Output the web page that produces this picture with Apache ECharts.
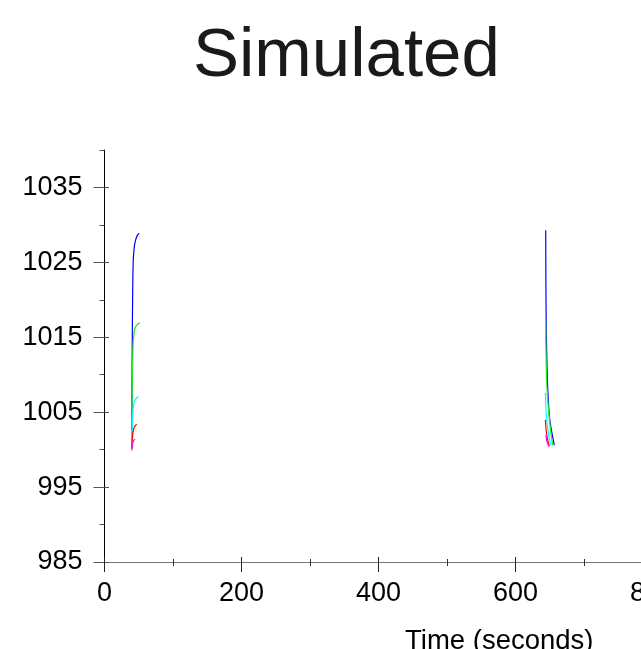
<!DOCTYPE html>
<html><head><meta charset="utf-8">
<script src="https://cdn.jsdelivr.net/npm/echarts@6/dist/echarts.min.js"></script>
<style>html,body{margin:0;padding:0;background:#fff}#c{width:641px;height:649px}</style>
</head><body><div id="c"></div>
<script>
const titleText = 'Simulated';
const xAxisTitle = 'Time (seconds)';
const xTickLabels = [0, 200, 400, 600, 800];
const yTickLabels = [985, 995, 1005, 1015, 1025, 1035];
const yMinorTicks = [990, 1000, 1010, 1020, 1030, 1040];

const blueRise = [[39.7,1000.2],[40.1,1008],[40.6,1015.5],[41.2,1021.5],[42,1025.3],[43.5,1027.1],[45.5,1028],[48,1028.6],[50.8,1028.9]];
const greenRise = [[39.7,1000.4],[40.2,1006],[40.7,1010],[41.4,1013],[42.3,1014.8],[44.5,1016.2],[48,1016.7],[51.8,1016.9]];
const cyanRise = [[39.8,1000.3],[40.3,1002.5],[41,1004.5],[42,1005.6],[43.5,1006.4],[46,1006.8],[49.4,1007.1]];
const redRise = [[39.8,1000.1],[40.4,1001],[41,1001.8],[42,1002.5],[43.5,1003],[47,1003.4]];
const magentaRise = [[39.7,999.9],[40.3,1000.4],[41,1000.8],[42.5,1001.2],[44.5,1001.4]];

const blueFall = [[644.1,1029.3],[644.4,1022],[644.9,1016],[645.5,1013.3],[646.5,1009.5],[647.9,1006.6],[649.8,1004.2],[652.8,1002.4],[656.7,1000.6]];
const greenFall = [[644.1,1017],[644.6,1012.5],[645.4,1009.3],[646.5,1007.3],[647.9,1005.7],[650,1003.6],[652,1002],[654.3,1000.6]];
const cyanFall = [[643.6,1007.6],[644.4,1005.6],[645.6,1004.1],[647.2,1002.8],[649,1001.7],[650.5,1001],[651.8,1000.6]];
const redFall = [[643.6,1004],[644.4,1002.9],[645.6,1002],[647,1001.3],[648.3,1000.8],[649.4,1000.5]];
const magentaFall = [[644.5,1002],[645.4,1001.3],[646.6,1000.9],[648,1000.6],[649.4,1000.4]];

const seriesDefs = [
  {name:'blue', color:'#0000ff', rise: blueRise, fall: blueFall},
  {name:'green', color:'#22ee22', rise: greenRise, fall: greenFall},
  {name:'cyan', color:'#00ffff', rise: cyanRise, fall: cyanFall},
  {name:'red', color:'#ff0000', rise: redRise, fall: redFall},
  {name:'magenta', color:'#ff00ff', rise: magentaRise, fall: magentaFall}
];

const series = [];
seriesDefs.forEach(d => {
  [d.rise, d.fall].forEach(seg => {
    series.push({
      name: d.name, type: 'line', data: seg, xAxisIndex: 0, yAxisIndex: 0,
      showSymbol: false, symbol: 'none', smooth: 0.3,
      lineStyle: {color: d.color, width: 1.2}, itemStyle: {color: d.color},
      z: 3
    });
  });
});

const chart = echarts.init(document.getElementById('c'), null, {renderer: 'canvas'});
const yMin = 985, yMax = 1040, xMin = 0, xMax = 800;
const labelFont = 'Liberation Sans, Arial, sans-serif';
const plain = v => String(v);
chart.setOption({
  animation: false,
  backgroundColor: '#ffffff',
  title: [
    {text: titleText, left: 188, top: 17,
     textStyle: {fontFamily: 'Liberation Sans, sans-serif', fontSize: 69, fontWeight: 'normal', color: '#1a1a1a'}},
    {text: xAxisTitle, left: 400, top: 622,
     textStyle: {fontFamily: labelFont, fontSize: 27.5, fontWeight: 'normal', color: '#000'}}
  ],
  grid: {left: 104.5, right: -11.5, top: 150, bottom: 87, containLabel: false, outerBoundsMode: 'none'},
  xAxis: [
    {type: 'value', position: 'bottom', min: xMin, max: xMax, interval: 200,
     axisLine: {show: true, onZero: false, lineStyle: {color: '#777', width: 1.2}},
     axisTick: {show: true, length: 10, lineStyle: {color: '#222'}},
     minorTick: {show: true, splitNumber: 2, length: 4, lineStyle: {color: '#333'}},
     axisLabel: {show: true, fontSize: 27, color: '#000', margin: 18, fontFamily: labelFont,
       customValues: xTickLabels, formatter: plain, hideOverlap: false},
     splitLine: {show: false}, minorSplitLine: {show: false}},
    {type: 'value', position: 'bottom', min: xMin, max: xMax, interval: 200,
     axisLine: {show: false, onZero: false},
     axisTick: {show: true, inside: true, length: 5, lineStyle: {color: '#222'}},
     minorTick: {show: true, splitNumber: 2, length: 3, lineStyle: {color: '#333'}},
     axisLabel: {show: false}, splitLine: {show: false}, minorSplitLine: {show: false}}
  ],
  yAxis: [
    {type: 'value', position: 'left', min: yMin, max: yMax,
     axisLine: {show: true, onZero: false, lineStyle: {color: '#000', width: 1}},
     axisTick: {show: true, length: 11, customValues: yTickLabels, lineStyle: {color: '#555'}},
     axisLabel: {show: true, fontSize: 27, color: '#000', margin: 22, fontFamily: labelFont,
       customValues: yTickLabels, formatter: plain},
     splitLine: {show: false}},
    {type: 'value', position: 'left', min: yMin, max: yMax,
     axisLine: {show: false, onZero: false},
     axisTick: {show: true, inside: true, length: 4.5, customValues: yTickLabels, lineStyle: {color: '#555'}},
     axisLabel: {show: false}, splitLine: {show: false}},
    {type: 'value', position: 'left', min: yMin, max: yMax,
     axisLine: {show: false, onZero: false},
     axisTick: {show: true, length: 5, customValues: yMinorTicks, lineStyle: {color: '#555'}},
     axisLabel: {show: false}, splitLine: {show: false}}
  ],
  series: series
});
</script>
</body></html>
